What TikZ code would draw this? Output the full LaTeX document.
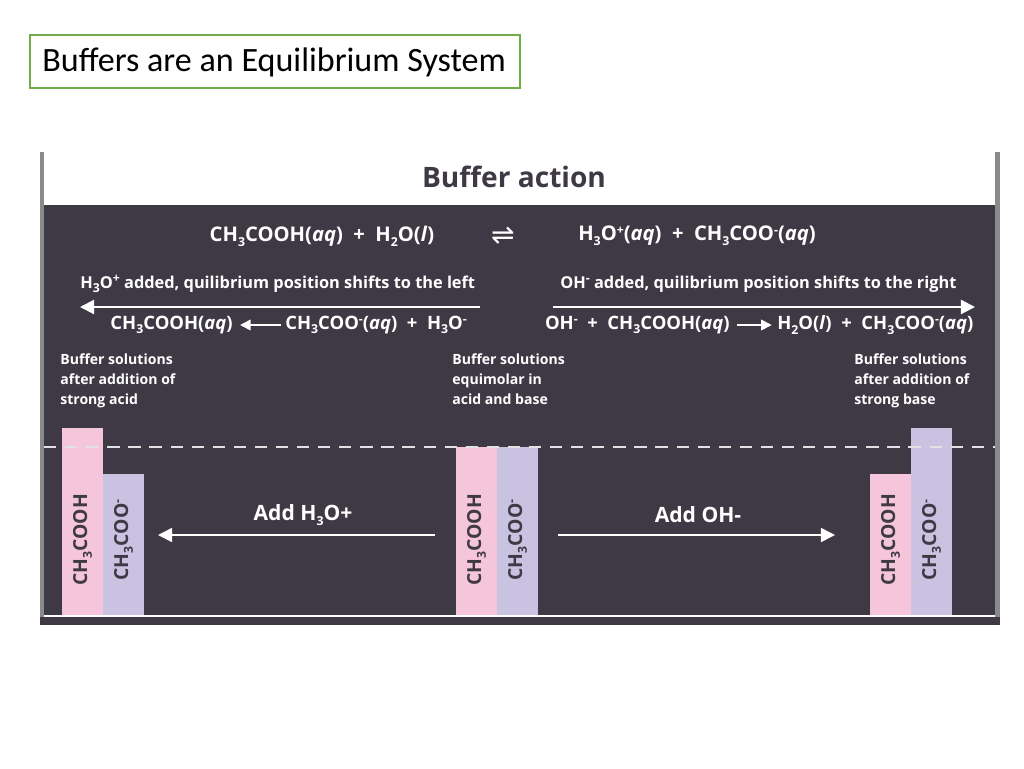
\documentclass[tikz,border=0pt]{standalone}
\usepackage{fontspec}
\setmainfont{Open Sans}
\newfontfamily\titlefont{Carlito}
\newfontfamily\symfont{DejaVu Sans}
\usetikzlibrary{arrows.meta}
\definecolor{panelbg}{HTML}{3F3946}
\definecolor{barpink}{HTML}{F5C5DC}
\definecolor{barlav}{HTML}{C9C3E1}
\definecolor{framegray}{HTML}{8A8A8A}
\definecolor{boxgreen}{HTML}{70AD47}
\newcommand{\dn}[1]{\raisebox{-0.45ex}{\scriptsize #1}}
\newcommand{\up}[1]{\raisebox{0.6ex}{\scriptsize #1}}
\begin{document}
\begin{tikzpicture}[x=0.02cm,y=-0.02cm,
    eqtext/.style={text=white,font=\bfseries\fontsize{10.5}{13}\selectfont,inner sep=0pt},
    headtext/.style={eqtext,anchor=west,font=\bfseries\fontsize{9.3}{12}\selectfont},
    smalltext/.style={text=white,font=\bfseries\fontsize{8}{11.5}\selectfont,align=left,anchor=north west,inner sep=0pt},
    barlabel/.style={text=panelbg,font=\bfseries\fontsize{11}{13}\selectfont,rotate=90,inner sep=0pt},
    shiftarrow/.style={white,line width=1.2pt,-{Triangle[length=8pt,width=8pt]}}]
\useasboundingbox (0,0) rectangle (1024,768);
\fill[white] (0,0) rectangle (1024,768);
% title box
\draw[boxgreen,line width=0.7pt] (30,35) rectangle (520,88);
\node[font=\titlefont\fontsize{19.4}{22}\selectfont,anchor=west,inner sep=0pt] (title) at (42,62) {Buffers are an Equilibrium System};
% panel
\fill[framegray] (40,152) rectangle (44,625);
\fill[framegray] (995,152) rectangle (1000,625);
\fill[panelbg] (44,205) rectangle (995,615);
\fill[panelbg] (40,617) rectangle (1000,625);
\node[text=panelbg,font=\bfseries\fontsize{16}{19}\selectfont] (head) at (514,177) {Buffer action};
% equilibrium
\node[eqtext,font=\bfseries\fontsize{11.5}{13}\selectfont] (lhs) at (322,236) {CH\dn{3}COOH(\textit{aq})\ \ +\ \ H\dn{2}O(\textit{l})};
\node[eqtext,font=\symfont\fontsize{16}{16}\selectfont] (eq) at (503,236) {⇌};
\node[eqtext,font=\bfseries\fontsize{11.5}{13}\selectfont] (rhs) at (697,236) {H\dn{3}O\up{+}(\textit{aq})\ \ +\ \ CH\dn{3}COO\up{-}(\textit{aq})};
% shifts
\node[headtext] (lefthead) at (80,284) {H\dn{3}O\up{+} added, quilibrium position shifts to the left};
\node[headtext] (righthead) at (560,284) {OH\up{-} added, quilibrium position shifts to the right};
\coordinate (la) at (480,307); \coordinate (lb) at (80,307);
\coordinate (ra) at (553,307); \coordinate (rb) at (975,307);
\draw[shiftarrow] (la) -- (lb);
\draw[shiftarrow] (ra) -- (rb);
% shifted reactions
\node[eqtext,anchor=east] (lprod) at (233,325) {CH\dn{3}COOH(\textit{aq})};
\node[eqtext,anchor=west] (lreac) at (285,325) {CH\dn{3}COO\up{-}(\textit{aq})\ \ +\ \ H\dn{3}O\up{-}};
\draw[shiftarrow,line width=1pt,-{Triangle[length=6pt,width=6pt]}] (lreac.west) ++(-4,0) -- ([xshift=4pt]lprod.east);
\node[eqtext,anchor=east] (rreac) at (730,325) {OH\up{-}\ \ +\ \ CH\dn{3}COOH(\textit{aq})};
\node[eqtext,anchor=west] (rprod) at (777,325) {H\dn{2}O(\textit{l})\ \ +\ \ CH\dn{3}COO\up{-}(\textit{aq})};
\draw[shiftarrow,line width=1pt,-{Triangle[length=6pt,width=6pt]}] ([xshift=4pt]rreac.east) -- ([xshift=-3pt]rprod.west);
% captions
\node[smalltext] (capl) at (60,353) {Buffer solutions\\after addition of\\strong acid};
\node[smalltext] (capm) at (452,353) {Buffer solutions\\equimolar in\\acid and base};
\node[smalltext] (capr) at (854,353) {Buffer solutions\\after addition of\\strong base};
% bars
\fill[barpink] (62,428) rectangle (103,615);
\fill[barlav] (103,474) rectangle (144,615);
\fill[barpink] (456,447) rectangle (497,615);
\fill[barlav] (497,447) rectangle (538,615);
\fill[barpink] (870,474) rectangle (911,615);
\fill[barlav] (911,428) rectangle (952,615);
\draw[white!85!panelbg,line width=1.3pt,dash pattern=on 7pt off 5pt] (44,447) -- (995,447);
\foreach \bx in {82.5,476.5,890.5} {
  \node[barlabel] at (\bx,540) {CH\dn{3}COOH};
  \node[barlabel] at (\bx+41,540) {CH\dn{3}COO\up{-}};
}
% add arrows
\node[eqtext,font=\bfseries\fontsize{12}{14}\selectfont] (addacid) at (303,515) {Add H\dn{3}O+};
\node[eqtext,font=\bfseries\fontsize{12}{14}\selectfont] (addbase) at (698,515) {Add OH-};
\coordinate (aa) at (435,535); \coordinate (ab) at (158,535);
\coordinate (ba) at (558,535); \coordinate (bb) at (835,535);
\draw[shiftarrow,line width=0.9pt] (aa) -- (ab);
\draw[shiftarrow,line width=0.9pt] (ba) -- (bb);
\end{tikzpicture}
\end{document}
